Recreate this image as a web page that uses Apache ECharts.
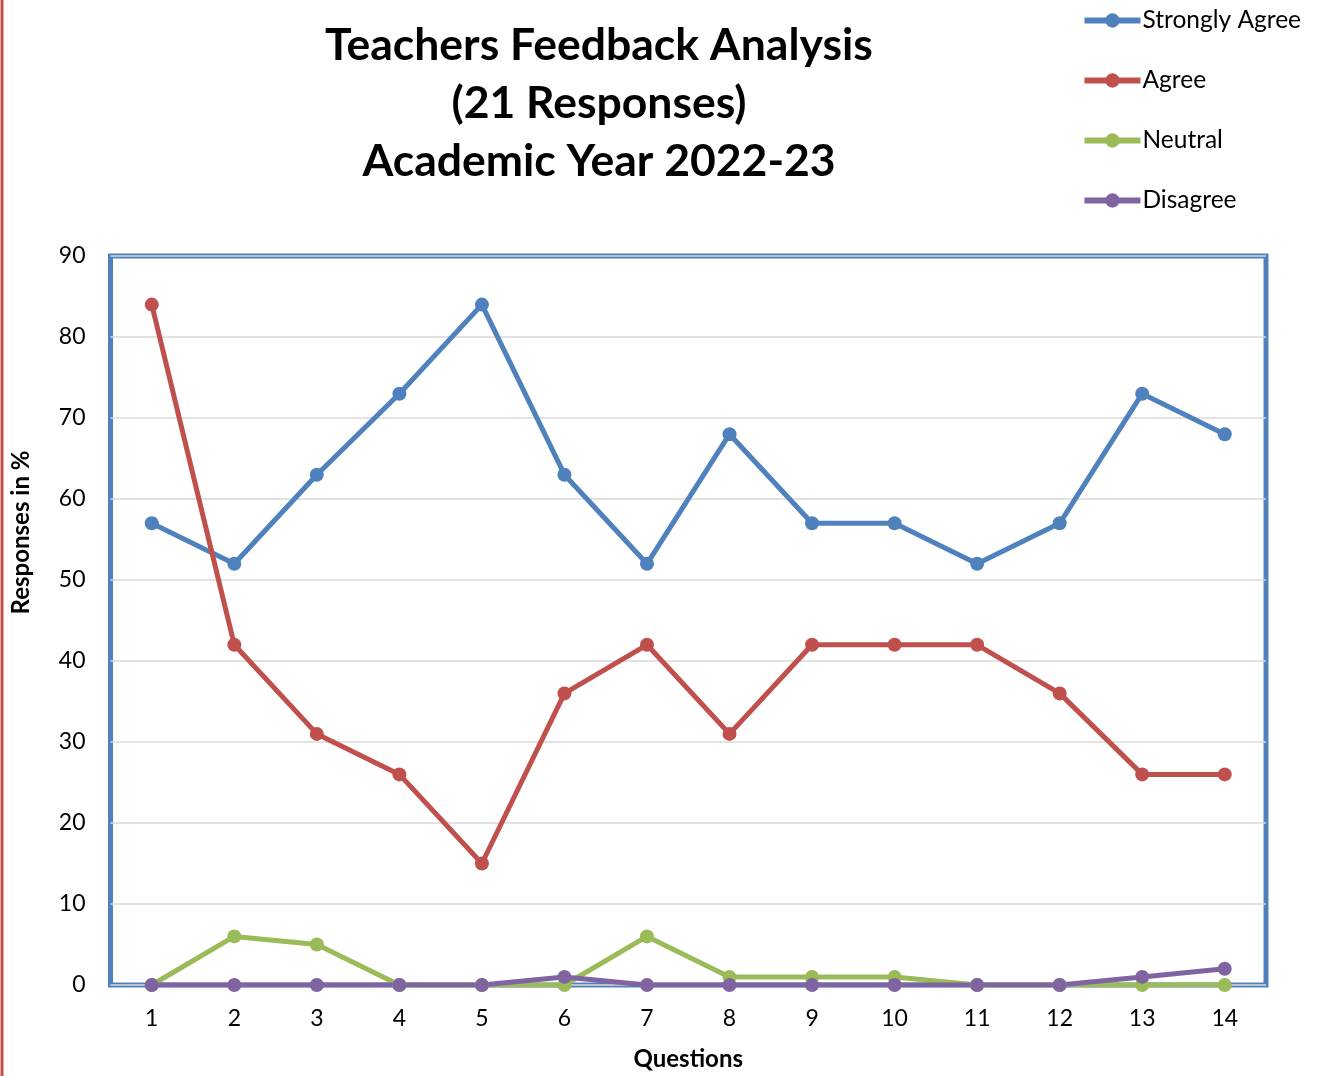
<!DOCTYPE html>
<html>
<head>
<meta charset="utf-8">
<script src="https://cdn.jsdelivr.net/npm/echarts@6/dist/echarts.min.js"></script>
<style>html,body{margin:0;padding:0;background:#fff}#c{width:1320px;height:1076px}</style>
</head>
<body>
<div id="c"></div>
<script>
const categories = ['1','2','3','4','5','6','7','8','9','10','11','12','13','14'];
const stronglyAgree = [57, 52, 63, 73, 84, 63, 52, 68, 57, 57, 52, 57, 73, 68];
const agree = [84, 42, 31, 26, 15, 36, 42, 31, 42, 42, 42, 36, 26, 26];
const neutral = [0, 6, 5, 0, 0, 0, 6, 1, 1, 1, 0, 0, 0, 0];
const disagree = [0, 0, 0, 0, 0, 1, 0, 0, 0, 0, 0, 0, 1, 2];
const seriesNames = ['Strongly Agree', 'Agree', 'Neutral', 'Disagree'];
const colors = ['#4f81bd', '#c0504d', '#9bbb59', '#8064a2'];

const chart = echarts.init(document.getElementById('c'));
const FONT = 'Lato';
function mk(name, data, color) {
  return {
    name, type: 'line', data,
    symbol: 'circle', symbolSize: 14,
    lineStyle: { width: 5, color },
    itemStyle: { color },
    emphasis: { disabled: true },
    animation: false
  };
}
chart.setOption({
  animation: false,
  textStyle: { fontFamily: FONT },
  title: {
    text: 'Teachers Feedback Analysis\n(21 Responses)\nAcademic Year 2022-23',
    left: 594, top: 12, textAlign: 'center',
    textStyle: { fontFamily: FONT, fontSize: 44.5, fontWeight: 'bold', lineHeight: 58, color: '#000' }
  },
  legend: {
    orient: 'vertical', right: 14, top: 3,
    itemWidth: 56, itemHeight: 18, itemGap: 35,
    data: seriesNames,
    lineStyle: { width: 6 },
    textStyle: { fontFamily: FONT, fontSize: 24.5, color: '#000', padding: [0, 0, 0, -3] }
  },
  grid: {
    left: 110.5, right: 54, top: 256, bottom: 91,
    outerBoundsMode: 'none', containLabel: false,
    show: true, borderColor: '#4f81bd', borderWidth: 5
  },
  xAxis: {
    type: 'category', data: categories, boundaryGap: true,
    name: 'Questions', nameLocation: 'middle', nameGap: 62,
    nameTextStyle: { fontFamily: FONT, fontSize: 24, fontWeight: 'bold', color: '#000' },
    axisLine: { show: true, lineStyle: { color: '#bfbfbf', width: 1 } },
    axisTick: { show: false },
    axisLabel: { fontFamily: FONT, fontSize: 23, color: '#000', margin: 22 }
  },
  yAxis: {
    type: 'value', min: 0, max: 90, interval: 10,
    name: 'Responses in %', nameLocation: 'middle', nameGap: 77, nameRotate: 90,
    nameTextStyle: { fontFamily: FONT, fontSize: 24, fontWeight: 'bold', color: '#000', padding: [0, 0, 0, 176] },
    axisLine: { show: false }, axisTick: { show: false },
    axisLabel: { fontFamily: FONT, fontSize: 23, color: '#000', margin: 25 },
    splitLine: { lineStyle: { color: '#d9d9d9', width: 1.5 } }
  },
  graphic: [{
    type: 'line', shape: { x1: 2, y1: 0, x2: 2, y2: 1076 },
    style: { stroke: '#c0504d', lineWidth: 3 }
  }],
  series: [
    mk(seriesNames[0], stronglyAgree, colors[0]),
    mk(seriesNames[1], agree, colors[1]),
    mk(seriesNames[2], neutral, colors[2]),
    mk(seriesNames[3], disagree, colors[3])
  ]
});
</script>
</body>
</html>
